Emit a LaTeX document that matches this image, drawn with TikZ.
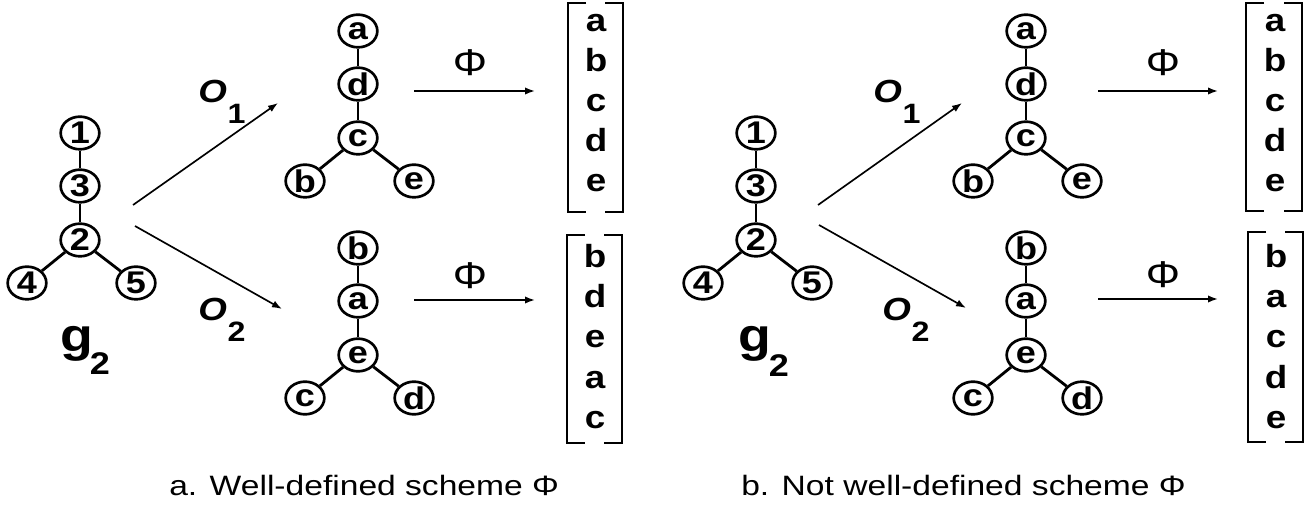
\documentclass[tikz,border=0pt]{standalone}
\usepackage{fontspec}
\setmainfont{Liberation Sans}[FakeStretch=1.15]
\newfontfamily\capfont{Liberation Sans}[FakeStretch=1.2]
\usetikzlibrary{shapes.geometric,arrows.meta}
\tikzset{
  vtx/.style={ellipse, draw, line width=2pt, minimum width=29pt, minimum height=24.5pt, inner sep=0pt,
    font=\fontsize{23.5}{24}\selectfont\bfseries},
  edge/.style={line width=2.1pt},
  arr/.style={line width=1.25pt, -{Latex[length=7.5pt,width=5.5pt]}},
  ent/.style={anchor=base, inner sep=0pt, font=\fontsize{24}{25}\selectfont\bfseries},
  brk/.style={line width=2pt},
  philab/.style={inner sep=0pt, font=\fontsize{28}{29}\selectfont},
  olab/.style={anchor=base west, inner sep=0pt, font=\fontsize{24}{25}\selectfont\bfseries\itshape},
  glab/.style={inner sep=0pt, font=\fontsize{35}{36}\selectfont\bfseries},
  gsub/.style={inner sep=0pt, font=\fontsize{23.5}{24}\selectfont\bfseries},
  caplab/.style={anchor=base west, inner sep=0pt, font=\capfont\fontsize{21}{22}\selectfont}
}
\newcommand\osubscr[1]{\kern0.5pt\raisebox{-15.75pt}{\fontsize{21}{22}\selectfont\bfseries\upshape #1}}
% #1 prefix, #2 x, #3 y of centre vertex, #4 top, #5 middle, #6 centre, #7 left, #8 right
\newcommand\ytree[8]{%
  \node[vtx] (#1c) at (#2,#3) {#6};
  \node[vtx] (#1m) at (#2,#3-54) {#5};
  \node[vtx] (#1t) at (#2,#3-107) {#4};
  \node[vtx] (#1l) at (#2-53,#3+43) {#7};
  \node[vtx] (#1r) at (#2+56,#3+43) {#8};
  \draw[edge] (#1t) -- (#1m);
  \draw[edge] (#1m) -- (#1c);
  \draw[edge] (#1c) -- (#1l);
  \draw[edge] (#1c) -- (#1r);
}
% #1 prefix, #2 x centre, #3 first baseline, #4..#8 entries
\newcommand\vcol[8]{%
  \node[ent] (#1a) at (#2,#3) {#4};
  \node[ent] (#1b) at (#2,#3+40) {#5};
  \node[ent] (#1c) at (#2,#3+80) {#6};
  \node[ent] (#1d) at (#2,#3+120) {#7};
  \node[ent] (#1e) at (#2,#3+160) {#8};
}
% #1 left x, #2 right x, #3 top y, #4 bottom y
\newcommand\brackets[4]{%
  \draw[brk] (#1+18,#3) -- (#1,#3) -- (#1,#4) -- (#1+18,#4);
  \draw[brk] (#2-18,#3) -- (#2,#3) -- (#2,#4) -- (#2-18,#4);
}
\begin{document}
\begin{tikzpicture}[x=0.75pt,y=-0.75pt]
\useasboundingbox (0,0) rectangle (1312,505);

% ---------------- panel a ----------------
\ytree{ag}{80}{240}{1}{3}{2}{4}{5}
\node[glab] (agl) at (77,344) {g};
\node[gsub] (ags) at (100,364) {2};

\coordinate (aO1s) at (133,205);
\coordinate (aO1e) at (278,103);
\coordinate (aO2s) at (135,226);
\coordinate (aO2e) at (282,309);
\draw[arr] (aO1s) -- (aO1e);
\draw[arr] (aO2s) -- (aO2e);
\node[olab] (ao1) at (198,103) {O\osubscr{1}};
\node[olab] (ao2) at (198,321) {O\osubscr{2}};

\ytree{at}{358}{138}{a}{d}{c}{b}{e}
\ytree{ab}{358}{355}{b}{a}{e}{c}{d}

\coordinate (aP1s) at (414,91);
\coordinate (aP1e) at (535,91);
\coordinate (aP2s) at (414,300);
\coordinate (aP2e) at (535,300);
\draw[arr] (aP1s) -- (aP1e);
\draw[arr] (aP2s) -- (aP2e);
\node[philab] (aphi1) at (470,63) {Φ};
\node[philab] (aphi2) at (470,276) {Φ};

\vcol{amt}{596}{32}{a}{b}{c}{d}{e}
\brackets{568}{623}{3}{212}
\vcol{amb}{595}{268}{b}{d}{e}{a}{c}
\brackets{567}{622}{235}{443}

\node[caplab] (capa) at (169,495) {a. Well-defined scheme Φ};

% ---------------- panel b ----------------
\ytree{bg}{756}{240}{1}{3}{2}{4}{5}
\node[glab] (bgl) at (755,344) {g};
\node[gsub] (bgs) at (779,366) {2};

\coordinate (bO1s) at (818,205);
\coordinate (bO1e) at (962,103);
\coordinate (bO2s) at (819,225);
\coordinate (bO2e) at (966,308);
\draw[arr] (bO1s) -- (bO1e);
\draw[arr] (bO2s) -- (bO2e);
\node[olab] (bo1) at (873,103) {O\osubscr{1}};
\node[olab] (bo2) at (882,321) {O\osubscr{2}};

\ytree{bt}{1026}{138}{a}{d}{c}{b}{e}
\ytree{bb}{1026}{355}{b}{a}{e}{c}{d}

\coordinate (bP1s) at (1098,91);
\coordinate (bP1e) at (1218,91);
\coordinate (bP2s) at (1098,299);
\coordinate (bP2e) at (1218,299);
\draw[arr] (bP1s) -- (bP1e);
\draw[arr] (bP2s) -- (bP2e);
\node[philab] (bphi1) at (1163,63) {Φ};
\node[philab] (bphi2) at (1163,275) {Φ};

\vcol{bmt}{1275}{32}{a}{b}{c}{d}{e}
\brackets{1246}{1302}{3}{211}
\vcol{bmb}{1276}{268}{b}{a}{c}{d}{e}
\brackets{1248}{1303}{232}{442}

\node[caplab] (capb) at (741,495) {b. Not well-defined scheme Φ};
\end{tikzpicture}
\end{document}
